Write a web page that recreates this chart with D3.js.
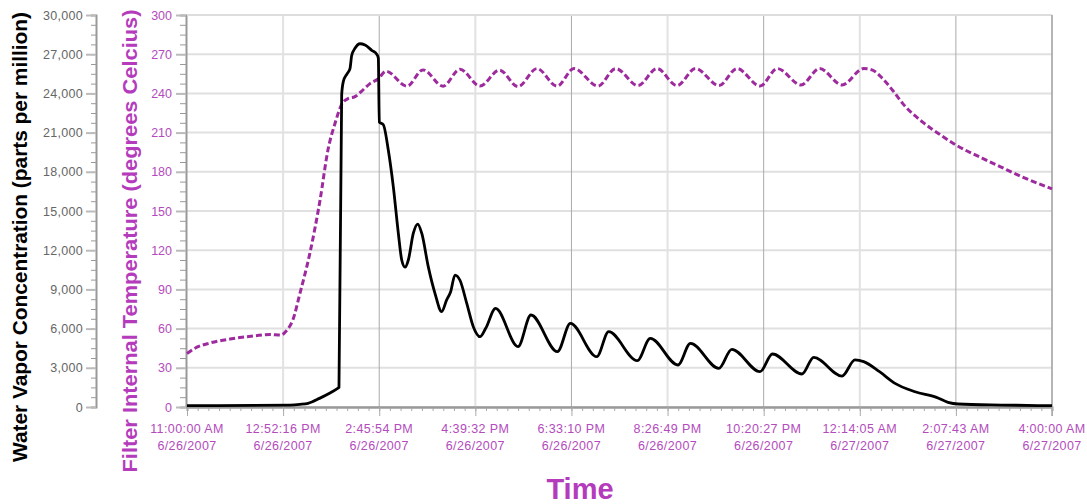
<!DOCTYPE html>
<html>
<head>
<meta charset="utf-8">
<script src="https://cdn.jsdelivr.net/npm/d3@7"></script>
<style>
  body { margin: 0; background: #fff; }
  svg { display: block; font-family: "Liberation Sans", Arial, sans-serif; }
</style>
</head>
<body>
<div id="chart"></div>
<script>
// minutes after 11:00:00 AM 6/26/2007
var vaporMinutes = [0, 121.5, 133.2, 142.7, 156.8, 168.6, 178.1, 179.2, 182.4, 184.3, 188.7, 192.2, 194.2,
  198.1, 204, 209.9, 217.8, 223.7, 225.6, 226.8, 231.5, 237.4, 243.3, 249.2, 253.2, 257.1, 261, 266.9,
  272, 276.8, 284.5, 292.4, 300.3, 306.2, 310.9, 316, 321.9, 329.8, 337.6, 345.5, 352.2, 363.9, 390.3,
  405.6, 436.8, 452.1, 483.2, 497.2, 531, 546.3, 578.9, 593.7, 627.1, 642.4, 675.7, 690.3, 725.2, 739,
  772.4, 787.7, 797.9, 816.6, 834.9, 858.5, 883.8, 897.4, 909.2, 960.4, 1020];
var vaporValues = [100, 150, 200, 280, 680, 1070, 1450, 1500, 23900, 24900, 25500, 25900, 26900,
  27450, 27800, 27700, 27300, 27000, 26700, 21800, 21600, 19650, 16850, 13300, 11250, 10700, 11250, 13300,
  14000, 13300, 10740, 8700, 7300, 8200, 8820, 10100, 9700, 7950, 6150, 5380, 6020, 7550, 4620,
  7040, 4235, 6400, 3850, 5765, 3545, 5255, 3215, 4870, 2960, 4415, 2700, 4056, 2525, 3800,
  2370, 3600, 3470, 2700, 1810, 1170, 740, 360, 230, 150, 100];

var tempMinutes = [0, 9.4, 27.1, 50.7, 80.2, 97.9, 110.8, 116.7, 125, 133.2, 145, 156.8, 166.3, 174.5,
  182.8, 189.8, 198.1, 206.4, 215.8, 225.2, 234.7, 259.4, 278.3, 301.9, 321.9, 345.5, 368.5, 390.3,
  412.7, 436.3, 456.3, 484.6, 505.5, 531.8, 554.2, 577.8, 599.7, 627.3, 648.6, 675.7, 696.1, 724,
  746, 772.4, 798, 807.7, 820.7, 832.5, 844.3, 867.5, 887.9, 906.8, 937.5, 958.7, 983.4, 1020];
var tempValues = [41, 45, 49, 52, 54.5, 55.5, 55, 58, 67, 87, 118, 158, 197, 217,
  232, 236, 237.5, 242, 247.5, 251, 257, 245.5, 258, 245.5, 258.5, 245.6, 257.8, 245.2,
  259, 245.6, 259, 245.6, 259, 246, 259, 246, 259, 246, 259, 245.6, 259, 246.5,
  259, 246.5, 259, 258, 251, 242, 232, 218, 208.5, 200.5, 190.5, 184, 176.5, 167];

var xTickTimes = ["11:00:00 AM", "12:52:16 PM", "2:45:54 PM", "4:39:32 PM", "6:33:10 PM",
  "8:26:49 PM", "10:20:27 PM", "12:14:05 AM", "2:07:43 AM", "4:00:00 AM"];
var xTickDates = ["6/26/2007", "6/26/2007", "6/26/2007", "6/26/2007", "6/26/2007",
  "6/26/2007", "6/26/2007", "6/27/2007", "6/27/2007", "6/27/2007"];
var vaporTicks = d3.range(0, 30001, 3000);
var tempTicks = d3.range(0, 301, 30);

var width = 1087, height = 504,
    plot = { left: 187, right: 1052, top: 15, bottom: 407 },
    purple = "#9e2b9e", labelPurple = "#b34bbd";

var svg = d3.select("#chart").append("svg")
    .attr("width", width)
    .attr("height", height);

var x = d3.scaleLinear().domain([0, 1020]).range([plot.left, plot.right]);
var yVapor = d3.scaleLinear().domain([0, 30000]).range([plot.bottom, plot.top]);
var yTemp = d3.scaleLinear().domain([0, 300]).range([plot.bottom, plot.top]);

var majorX = xTickTimes.map(function (d, i) { return i * 1020 / (xTickTimes.length - 1); });
var minorX = d3.range(0, 1020.01, 1020 / 81);

// grid
var grid = svg.append("g");
grid.selectAll("line.h").data(vaporTicks).enter().append("line")
    .attr("x1", plot.left).attr("x2", plot.right)
    .attr("y1", function (d) { return yVapor(d); })
    .attr("y2", function (d) { return yVapor(d); })
    .attr("stroke", "#e0e0e0").attr("stroke-width", 2);
grid.selectAll("line.v").data(majorX.slice(1)).enter().append("line")
    .attr("y1", plot.top).attr("y2", plot.bottom)
    .attr("x1", function (d) { return x(d); })
    .attr("x2", function (d) { return x(d); })
    .attr("stroke", function (d, i) { return (i % 2 === 0 && i !== 8) ? "#e2e2e2" : "#aaaaaa"; })
    .attr("stroke-width", function (d, i) { return (i % 2 === 0 && i !== 8) ? 2 : 1; });

// x axis
var xMinor = svg.append("g")
    .attr("transform", "translate(0," + plot.bottom + ")")
    .call(d3.axisBottom(x).tickValues(minorX).tickSize(4).tickFormat(""));
var xMajor = svg.append("g")
    .attr("transform", "translate(0," + plot.bottom + ")")
    .call(d3.axisBottom(x).tickValues(majorX).tickSize(9).tickSizeOuter(0).tickFormat(""));
[xMinor, xMajor].forEach(function (g) {
    g.select(".domain").attr("stroke", "#999").attr("stroke-width", 2);
    g.selectAll(".tick line").attr("stroke", "#aaa");
});

var xLabels = svg.append("g")
    .attr("fill", labelPurple)
    .attr("font-size", 12.5)
    .attr("text-anchor", "middle")
    .style("letter-spacing", "0.4px");
xLabels.selectAll("text.t").data(majorX).enter().append("text")
    .attr("x", function (d) { return x(d); })
    .attr("y", 433)
    .text(function (d, i) { return xTickTimes[i]; });
xLabels.selectAll("text.d").data(majorX).enter().append("text")
    .attr("x", function (d) { return x(d); })
    .attr("y", 450)
    .text(function (d, i) { return xTickDates[i]; });

// vapor axis (left)
var vAxisX = 96;
svg.append("g")
    .attr("transform", "translate(" + vAxisX + ",0)")
    .call(d3.axisLeft(yVapor).tickValues(d3.range(0, 30001, 750)).tickSize(5).tickFormat(""))
    .call(function (g) {
        g.select(".domain").attr("stroke", "#999").attr("stroke-width", 2);
        g.selectAll(".tick line").attr("stroke", "#999");
    });
svg.append("g")
    .attr("transform", "translate(" + vAxisX + ",0)")
    .call(d3.axisLeft(yVapor).tickValues(vaporTicks).tickSize(10).tickSizeOuter(0).tickPadding(3).tickFormat(d3.format(",")))
    .call(function (g) {
        g.select(".domain").remove();
        g.selectAll(".tick line").attr("stroke", "#bbb").attr("stroke-width", 2);
        g.selectAll(".tick text").attr("fill", "#666").attr("font-size", 12.5)
            .style("letter-spacing", "0.3px");
    });

// temperature axis (left, inner)
var tAxisX = plot.left - 1;
svg.append("g")
    .attr("transform", "translate(" + tAxisX + ",0)")
    .call(d3.axisLeft(yTemp).tickValues(d3.range(0, 300.01, 7.5)).tickSize(6).tickFormat(""))
    .call(function (g) {
        g.select(".domain").attr("stroke", "#999").attr("stroke-width", 2);
        g.selectAll(".tick line").attr("stroke", "#999");
    });
svg.append("g")
    .attr("transform", "translate(" + tAxisX + ",0)")
    .call(d3.axisLeft(yTemp).tickValues(tempTicks).tickSize(10).tickSizeOuter(0).tickPadding(4))
    .call(function (g) {
        g.select(".domain").remove();
        g.selectAll(".tick line").attr("stroke", "#bbb").attr("stroke-width", 2);
        g.selectAll(".tick text").attr("fill", labelPurple).attr("font-size", 12.5);
    });

// borders
svg.append("line")
    .attr("x1", plot.left).attr("x2", plot.right)
    .attr("y1", plot.top).attr("y2", plot.top)
    .attr("stroke", "#ddd").attr("stroke-width", 2);
svg.append("line")
    .attr("x1", plot.right).attr("x2", plot.right)
    .attr("y1", plot.top).attr("y2", plot.bottom + 9)
    .attr("stroke", "#aaa").attr("stroke-width", 1.5);

// series
var vaporData = vaporMinutes.map(function (t, i) { return { t: t, v: vaporValues[i] }; });
var tempData = tempMinutes.map(function (t, i) { return { t: t, v: tempValues[i] }; });

svg.append("path")
    .datum(tempData)
    .attr("fill", "none")
    .attr("stroke", purple)
    .attr("stroke-width", 3)
    .attr("stroke-dasharray", "6,3")
    .attr("d", d3.line()
        .x(function (d) { return x(d.t); })
        .y(function (d) { return yTemp(d.v); })
        .curve(d3.curveMonotoneX));

svg.append("path")
    .datum(vaporData)
    .attr("fill", "none")
    .attr("stroke", "#000")
    .attr("stroke-width", 2.8)
    .attr("stroke-linejoin", "round")
    .attr("d", d3.line()
        .x(function (d) { return x(d.t); })
        .y(function (d) { return yVapor(d.v); })
        .curve(d3.curveMonotoneX));

// titles
svg.append("text")
    .attr("transform", "translate(27,237) rotate(-90)")
    .attr("text-anchor", "middle")
    .attr("font-size", 21)
    .attr("font-weight", "bold")
    .attr("fill", "#000")
    .attr("textLength", 450)
    .attr("lengthAdjust", "spacingAndGlyphs")
    .text("Water Vapor Concentration (parts per million)");

svg.append("text")
    .attr("transform", "translate(137,241) rotate(-90)")
    .attr("text-anchor", "middle")
    .attr("font-size", 21)
    .attr("font-weight", "bold")
    .attr("fill", "#b43cbc")
    .attr("textLength", 463)
    .attr("lengthAdjust", "spacingAndGlyphs")
    .text("Filter Internal Temperature (degrees Celcius)");

svg.append("text")
    .attr("x", 580)
    .attr("y", 499)
    .attr("text-anchor", "middle")
    .attr("font-size", 29)
    .attr("font-weight", "bold")
    .attr("fill", "#b43cbc")
    .text("Time");
</script>
</body>
</html>
